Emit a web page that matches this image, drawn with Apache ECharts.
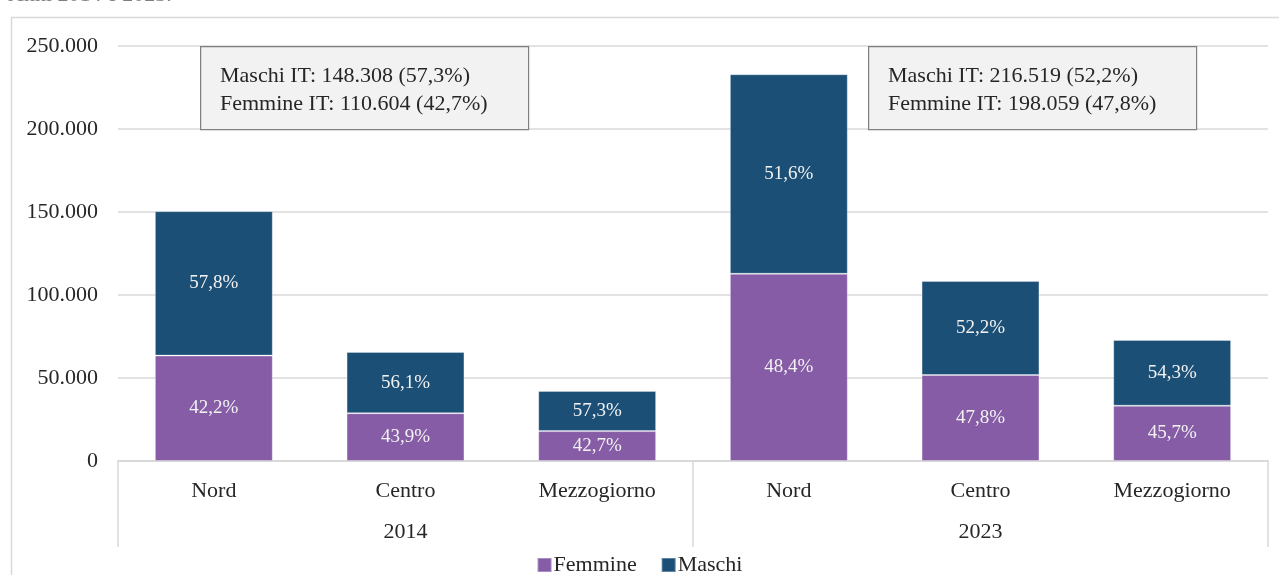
<!DOCTYPE html>
<html>
<head>
<meta charset="utf-8">
<script src="https://cdn.jsdelivr.net/npm/echarts@6/dist/echarts.min.js"></script>
<style>
  html, body { margin: 0; padding: 0; background: #fff; }
  #chart { width: 1279px; height: 575px; }
</style>
</head>
<body>
<div id="chart"></div>
<script>
// dati
const regioni = ['Nord', 'Centro', 'Mezzogiorno', 'Nord', 'Centro', 'Mezzogiorno'];
const anni = ['2014', '2023'];
const femmine = [63500, 28800, 18000, 112800, 51800, 33300];
const maschi = [87000, 36900, 24200, 120200, 56600, 39600];
const pctFemmine = ['42,2%', '43,9%', '42,7%', '48,4%', '47,8%', '45,7%'];
const pctMaschi = ['57,8%', '56,1%', '57,3%', '51,6%', '52,2%', '54,3%'];
const yTicks = [0, 50000, 100000, 150000, 200000, 250000];
const note2014 = ['Maschi IT: 148.308 (57,3%)', 'Femmine IT: 110.604 (42,7%)'];
const note2023 = ['Maschi IT: 216.519 (52,2%)', 'Femmine IT: 198.059 (47,8%)'];

const font = '"Liberation Serif", "DejaVu Serif", serif';
const txt = '#262626';
const grigio = '#d9d9d9';

function fmt(v) {
  return String(v).replace(/\B(?=(\d{3})+(?!\d))/g, '.');
}

function box(x, lines) {
  return [
    {
      type: 'rect', left: x, top: 46, z: 10,
      shape: { width: 328, height: 83 },
      style: { fill: '#f2f2f2', stroke: '#7f7f7f', lineWidth: 1.2 }
    },
    {
      type: 'text', left: x + 20, top: 62, z: 11,
      style: { text: lines.join('\n'), font: '22px ' + font, fill: txt, lineHeight: 28 }
    }
  ];
}

const chart = echarts.init(document.getElementById('chart'));
chart.setOption({
  animation: false,
  textStyle: { fontFamily: font },
  grid: { left: 118, right: 11, top: 46, bottom: 114 },
  legend: {
    top: 549, left: 'center',
    itemWidth: 14, itemHeight: 14, itemGap: 24,
    textStyle: { fontSize: 22, color: txt, fontFamily: font, padding: [0, 0, 0, -3] },
    icon: 'rect',
    data: ['Femmine', 'Maschi']
  },
  graphic: [
    {
      type: 'rect', left: 9, top: 15, silent: true,
      shape: { width: 1280, height: 570 },
      style: { fill: 'none', stroke: grigio, lineWidth: 1.5 }
    },
    {
      type: 'text', left: 8, top: -16,
      style: { text: 'Anni 2014 e 2023.', font: '22px ' + font, fill: '#7f7f7f' }
    },
    ...box(200, note2014),
    ...box(868, note2023)
  ],
  xAxis: [
    {
      type: 'category', data: regioni, position: 'bottom',
      axisLine: { show: true, lineStyle: { color: grigio, width: 1.5 } },
      axisTick: { show: false },
      axisLabel: { color: txt, fontSize: 22, margin: 19, fontFamily: font }
    },
    {
      type: 'category', data: anni, position: 'bottom',
      axisLine: { show: true, lineStyle: { color: grigio, width: 1.5 } },
      axisTick: { show: true, length: 86, lineStyle: { color: grigio, width: 1.5 } },
      axisLabel: { color: txt, fontSize: 22, margin: 60, fontFamily: font }
    }
  ],
  yAxis: {
    type: 'value', min: yTicks[0], max: yTicks[yTicks.length - 1], interval: 50000,
    axisLine: { show: false },
    axisTick: { show: false },
    splitLine: { lineStyle: { color: grigio, width: 1.5 } },
    axisLabel: { color: txt, fontSize: 22, margin: 20, fontFamily: font, formatter: fmt }
  },
  series: [
    {
      name: 'Femmine', type: 'bar', stack: 'tot', barWidth: '61.5%',
      data: femmine,
      itemStyle: { color: '#855ca5', borderColor: 'rgba(255,255,255,0.3)', borderWidth: 1 },
      label: {
        show: true, position: 'inside', color: '#f2f2f2', fontSize: 19, fontFamily: font,
        formatter: p => pctFemmine[p.dataIndex]
      }
    },
    {
      name: 'Maschi', type: 'bar', stack: 'tot',
      data: maschi,
      itemStyle: { color: '#1b4f76', borderColor: 'rgba(255,255,255,0.3)', borderWidth: 1 },
      label: {
        show: true, position: 'inside', color: '#f2f2f2', fontSize: 19, fontFamily: font,
        formatter: p => pctMaschi[p.dataIndex]
      }
    }
  ]
});
</script>
</body>
</html>
